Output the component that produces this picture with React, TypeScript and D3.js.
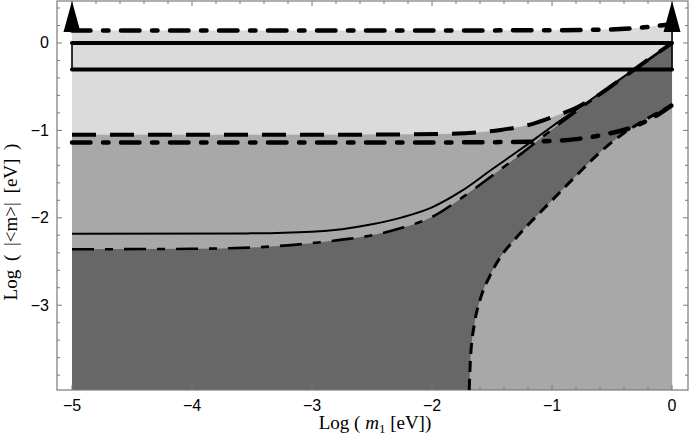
import * as d3 from "d3"

// axis ticks
const xTickValues = [-5, -4, -3, -2, -1, 0]
const yTickValues = [-3, -2, -1, 0]

// curves, [log m1, log |<m>|]
const topDashDot = [[-5, 0.143], [-2, 0.143], [-1, 0.146], [-0.52, 0.154], [-0.29, 0.171], [-0.1, 0.2], [0, 0.215]]
const upperDashed = [[-5, -1.05], [-3, -1.05], [-2.2, -1.045], [-1.85, -1.038], [-1.43, -0.995], [-1.16, -0.925], [-0.96, -0.83], [-0.79, -0.735], [-0.65, -0.628], [-0.45, -0.437], [-0.2, -0.192], [0, 0]]
const midDashDot = [[-5, -1.14], [-2, -1.138], [-1.2, -1.13], [-0.8, -1.1], [-0.52, -1.035], [-0.32, -0.96], [-0.13, -0.83], [0, -0.71]]
const nhUpper = [[-5, -2.183], [-3.5, -2.178], [-3, -2.16], [-2.75, -2.13], [-2.5, -2.075], [-2.25, -1.995], [-2, -1.88], [-1.75, -1.69], [-1.5, -1.445], [-1.25, -1.205], [-1, -0.955], [-0.75, -0.72], [-0.5, -0.48], [-0.25, -0.24], [0, 0]]
const nhLower = [[-5, -2.36], [-4, -2.355], [-3.5, -2.34], [-3, -2.29], [-2.75, -2.25], [-2.5, -2.2], [-2.25, -2.115], [-2, -1.99], [-1.75, -1.77], [-1.5, -1.52], [-1.25, -1.26], [-1, -0.99], [-0.75, -0.735], [-0.5, -0.49], [-0.25, -0.245], [0, 0]]
const cancelDashed = [[-1.69, -3.97], [-1.68, -3.62], [-1.645, -3.2], [-1.6, -2.94], [-1.52, -2.67], [-1.43, -2.45], [-1.3, -2.23], [-1.15, -2.01], [-1, -1.8], [-0.8, -1.52], [-0.6, -1.25], [-0.4, -1.03], [-0.2, -0.86], [0, -0.71]]
const solidLevels = [0, -0.305]
const arrowX = [-5, 0]

const W = 689
const H = 436
const left = 57
const right = 688
const top = 1
const bottom = 390

const x = d3.scaleLinear().domain([-5.125, 0.133]).range([left, right])
const y = d3.scaleLinear().domain([-3.97, 0.48]).range([bottom, top])
const yMin = -3.97

const line = d3
  .line()
  .x((d) => x(d[0]))
  .y((d) => y(d[1]))
  .curve(d3.curveMonotoneX)

const area = d3
  .area()
  .x((d) => x(d[0]))
  .y0(y(yMin))
  .y1((d) => y(d[1]))
  .curve(d3.curveMonotoneX)

const fmt = (v) => (v < 0 ? "\u2212" + Math.abs(v) : String(v))

export default function App() {
  const xMinor = d3.range(-5, 0.01, 0.2).map((v) => +v.toFixed(1))
  const yMinor = d3.range(-3.8, 0.41, 0.2).map((v) => +v.toFixed(1))
  const tickColor = "#7a7a7a"

  return (
    <svg width={W} height={H} style={{ position: "absolute", left: 0, top: 0, background: "#fff" }}>
      {/* shaded regions */}
      <path d={area(topDashDot)} fill="#dbdbdb" />
      <path d={area(upperDashed)} fill="#a8a8a8" />
      <path d={area(nhLower)} fill="#676767" />
      <path d={area(cancelDashed)} fill="#a8a8a8" />

      {/* frame and ticks */}
      <rect x={left} y={top} width={right - left} height={bottom - top} fill="none" stroke={tickColor} strokeWidth={1.2} />
      {xMinor.map((v) => {
        const major = xTickValues.includes(v)
        const len = major ? 5 : 3
        return (
          <g key={"xt" + v} stroke={tickColor} strokeWidth={1}>
            <line x1={x(v)} x2={x(v)} y1={bottom} y2={bottom - len} />
            <line x1={x(v)} x2={x(v)} y1={top} y2={top + len} />
          </g>
        )
      })}
      {yMinor.map((v) => {
        const major = yTickValues.includes(v)
        const len = major ? 5 : 3
        return (
          <g key={"yt" + v} stroke={tickColor} strokeWidth={1}>
            <line x1={left} x2={left + len} y1={y(v)} y2={y(v)} />
            <line x1={right} x2={right - len} y1={y(v)} y2={y(v)} />
          </g>
        )
      })}

      {/* curves */}
      <path d={line(cancelDashed)} fill="none" stroke="#000" strokeWidth={3} strokeDasharray="11 7" />
      <path d={line(nhLower)} fill="none" stroke="#000" strokeWidth={2.6} strokeDasharray="22 11 8 11" />
      <path d={line(nhUpper)} fill="none" stroke="#000" strokeWidth={2} />
      <path d={line(midDashDot)} fill="none" stroke="#000" strokeWidth={4.5} strokeLinecap="round" strokeDasharray="18.5 12.5 5.5 12.5" />
      <path d={line(upperDashed)} fill="none" stroke="#000" strokeWidth={4} strokeDasharray="24 14" />
      <path d={line(topDashDot)} fill="none" stroke="#000" strokeWidth={4.5} strokeLinecap="round" strokeDasharray="18.5 12.5 5.5 12.5" />
      {solidLevels.map((v) => (
        <line key={"s" + v} x1={x(-5)} x2={x(0)} y1={y(v)} y2={y(v)} stroke="#000" strokeWidth={4} strokeLinecap="round" />
      ))}
      <line x1={x(-5)} x2={x(-5)} y1={y(0)} y2={y(-0.305)} stroke="#000" strokeWidth={1.6} />
      <line x1={x(0)} x2={x(0)} y1={y(0.125)} y2={y(-0.305)} stroke="#000" strokeWidth={1.6} />
      {arrowX.map((v) => (
        <path
          key={"a" + v}
          d={`M${x(v) - 8.5},${y(0.125)}L${x(v) + 8.5},${y(0.125)}L${x(v)},${y(0.48)}Z`}
          fill="#000"
        />
      ))}

      {/* tick labels */}
      <g fontFamily="Liberation Sans, Arial, sans-serif" fontSize={16} fill="#000">
        {xTickValues.map((v) => (
          <text key={"xl" + v} x={x(v)} y={405} textAnchor="middle" dominantBaseline="central">
            {fmt(v)}
          </text>
        ))}
        {yTickValues.map((v) => (
          <text key={"yl" + v} x={49} y={y(v)} textAnchor="end" dominantBaseline="central">
            {fmt(v)}
          </text>
        ))}
      </g>

      {/* axis labels */}
      <text x={375} y={429} textAnchor="middle" fontFamily="Liberation Serif, Times New Roman, serif" fontSize={19} fill="#000">
        {"Log ( "}
        <tspan fontStyle="italic">m</tspan>
        <tspan fontSize={13} dy={4}>1</tspan>
        <tspan dy={-4}>{" [eV])"}</tspan>
      </text>
      <text
        transform="translate(17,222) rotate(-90)"
        textAnchor="middle"
        fontFamily="Liberation Serif, Times New Roman, serif"
        fontSize={19}
        wordSpacing={4}
        fill="#000"
      >
        {"Log ( |<m>| [eV] )"}
      </text>
    </svg>
  )
}
